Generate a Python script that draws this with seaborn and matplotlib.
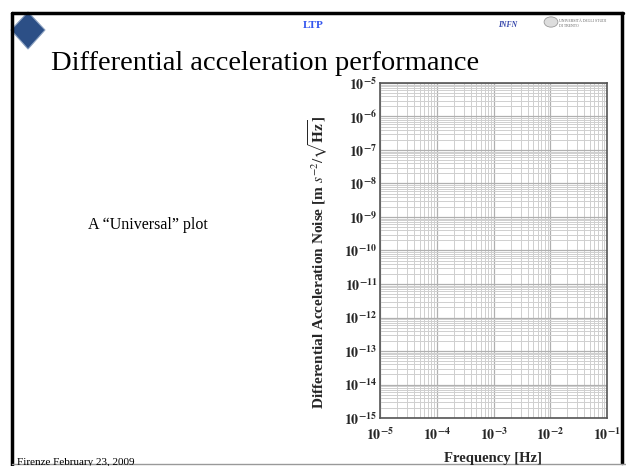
import numpy as np
import matplotlib
matplotlib.use("Agg")
import matplotlib.pyplot as plt
import matplotlib.ticker as mticker
from matplotlib.lines import Line2D
from matplotlib.patches import Polygon, Circle
import seaborn as sns

# ---- data (axis decades / labels) ----
freq_exponents = [-5, -4, -3, -2, -1]
noise_exponents = [-15, -14, -13, -12, -11, -10, -9, -8, -7, -6, -5]
x_label = "Frequency [Hz]"
y_label = r"Differential Acceleration Noise [m $s^{-2}/\sqrt{\mathbf{Hz}}$]"
title = "Differential acceleration performance"
side_text = "A \u201cUniversal\u201d plot"
footer = "Firenze February 23, 2009"

sns.set_theme(style="white")
plt.rcParams["font.family"] = ["Liberation Serif", "DejaVu Serif"]
plt.rcParams["mathtext.fontset"] = "stix"

fig = plt.figure(figsize=(6.26, 4.66), dpi=100)
fig.patch.set_facecolor("white")

W, H = 626.0, 466.0
def fx(px): return px / W
def fy(py): return 1 - py / H

ax = fig.add_axes([fx(380), fy(418), fx(607) - fx(380), fy(83) - fy(418)])
ax.set_xscale("log")
ax.set_yscale("log")
xt = [10.0 ** e for e in freq_exponents]
yt = [10.0 ** e for e in noise_exponents]
ax.set_xlim(xt[0], xt[-1])
ax.set_ylim(yt[0], yt[-1])
ax.set_xticks(xt)
ax.set_yticks(yt)
ax.set_xticklabels([r"$\mathbf{10^{%d}}$" % e for e in freq_exponents])
ax.set_yticklabels([r"$\mathbf{10^{%d}}$" % e for e in noise_exponents])
subs = np.arange(2.0, 10.0, 1.0)
ax.xaxis.set_minor_locator(mticker.LogLocator(base=10, subs=subs, numticks=50))
ax.yaxis.set_minor_locator(mticker.LogLocator(base=10, subs=subs, numticks=50))
ax.xaxis.set_minor_formatter(mticker.NullFormatter())
ax.yaxis.set_minor_formatter(mticker.NullFormatter())
ax.grid(True, which="major", color="#b0b0b0", linewidth=0.9)
ax.grid(True, which="minor", color="#cfcfcf", linewidth=0.7)
ax.tick_params(which="both", length=0, labelsize=10)
ax.tick_params(axis="x", pad=6)
ax.tick_params(axis="y", pad=2)
for s in ax.spines.values():
    s.set_visible(True)
    s.set_color("#555555")
    s.set_linewidth(1.2)

fig.text(fx(493), fy(462), x_label, fontsize=10.5, fontweight="bold", ha="center", va="baseline")
fig.text(fx(318), fy(262), y_label, fontsize=11, fontweight="bold", rotation=90,
         ha="center", va="center")

# slide decoration
fig.add_artist(Line2D([fx(12), fx(623)], [fy(13), fy(13)], color="black", lw=2.5))
fig.add_artist(Line2D([fx(12), fx(12)], [fy(13), 0], color="black", lw=2.5))
fig.add_artist(Line2D([fx(622), fx(622)], [fy(13), fy(463)], color="black", lw=2.5))
fig.add_artist(Line2D([fx(12), 1], [fy(464), fy(464)], color="#999999", lw=1))

# logos
fig.add_artist(Polygon([[fx(28), fy(12)], [fx(45), fy(30)], [fx(28), fy(49)], [fx(11), fy(30)]],
                       closed=True, transform=fig.transFigure, facecolor="#2c4f86", edgecolor="#8aa0c0", lw=0.8))
fig.text(fx(498), fy(27), "INFN", fontsize=5.5, color="#3344aa", fontweight="bold", style="italic", ha="left", va="baseline")
fig.add_artist(Circle((fx(551), fy(22)), 0.011, transform=fig.transFigure, facecolor="#dddddd", edgecolor="#999999", lw=0.6))
fig.text(fx(559), fy(27), "UNIVERSITÀ DEGLI STUDI\nDI TRENTO", fontsize=2.8, color="#666666", ha="left", va="baseline")

fig.text(fx(313), fy(28), "LTP", fontsize=8, color="#3355ee", fontweight="bold", ha="center", va="baseline")
fig.text(fx(265), fy(70), title, fontsize=20.5, color="black", ha="center", va="baseline")
fig.text(fx(88), fy(229), side_text, fontsize=11.5, color="black", ha="left", va="baseline")
fig.text(fx(17), fy(465), footer, fontsize=8, color="black", ha="left", va="baseline")

fig.savefig("out.png", dpi=100)
